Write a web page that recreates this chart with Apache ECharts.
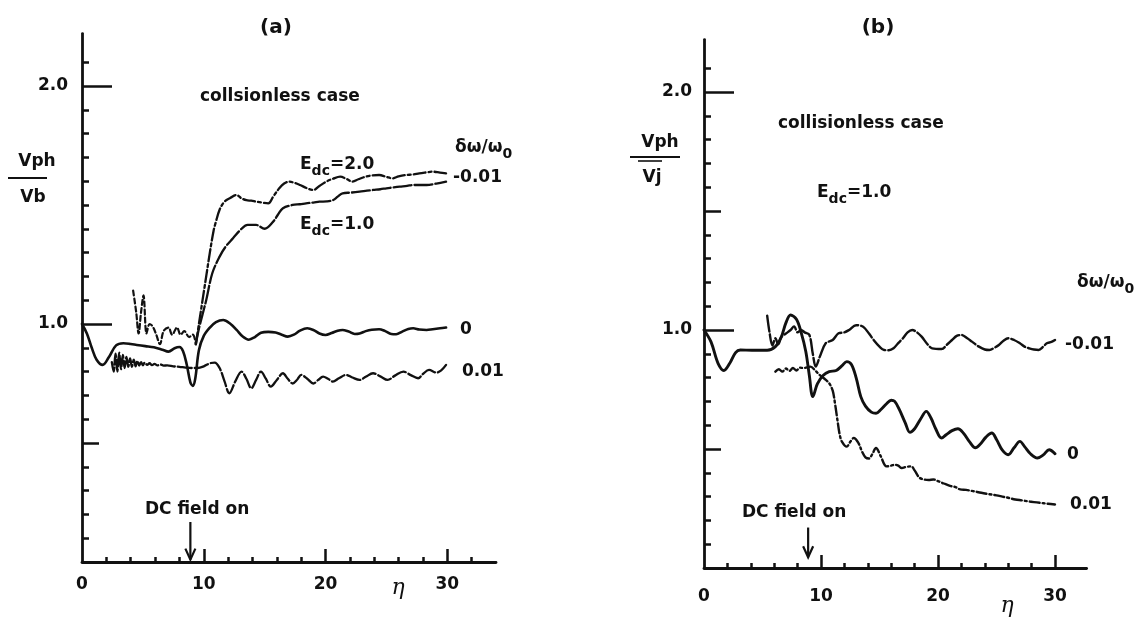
<!DOCTYPE html>
<html>
<head>
<meta charset="utf-8">
<script src="https://cdn.jsdelivr.net/npm/echarts@6/dist/echarts.min.js"></script>
<style>
  html, body { margin: 0; padding: 0; background: #fff; }
  #chart { width: 1146px; height: 619px; }
</style>
</head>
<body>
<div id="chart"></div>
<script>
// ---- axis ticks ----
const etaMajorTicks = [10, 20, 30];
const etaLabels = [0, 10, 20, 30];
const etaMinorTicksA = [2, 4, 6, 8, 12, 14, 16, 18, 22, 24, 26, 28, 32];
const etaMinorTicksB = [2, 4, 6, 8, 12, 14, 16, 18, 22, 24, 26, 28];
const vLongTicks = [1.0, 2.0];
const vMidTicksA = [0.5];
const vMidTicksB = [0.5, 1.5];
const vMinorTicks = [0.1, 0.2, 0.3, 0.4, 0.6, 0.7, 0.8, 0.9, 1.1, 1.2, 1.3, 1.4, 1.5, 1.6, 1.7, 1.8, 1.9, 2.1];
const vMinorTicksB = [0.1, 0.2, 0.3, 0.4, 0.6, 0.7, 0.8, 0.9, 1.1, 1.2, 1.3, 1.4, 1.6, 1.7, 1.8, 1.9, 2.1];
const fieldOnEta = 8.9;

// ---- panel (a): v_ph / v_b versus eta ----
// delta-omega/omega0 = 0
const aZero = [[0,1.0],[0.4,0.96],[0.8,0.90],[1.2,0.85],[1.7,0.828],[2.2,0.86],[2.8,0.91],[3.4,0.919],[4.0,0.916],[4.5,0.912],[5.2,0.907],[5.9,0.902],[6.6,0.892],[7.1,0.884],[7.6,0.898],[8.0,0.903],[8.3,0.885],[8.6,0.83],[8.9,0.755],[9.1,0.74],[9.3,0.77],[9.6,0.89],[10.0,0.95],[10.5,0.985],[11.0,1.008],[11.6,1.017],[12.2,1.0],[12.7,0.975],[13.2,0.947],[13.7,0.934],[14.2,0.945],[14.7,0.963],[15.3,0.967],[15.9,0.964],[16.4,0.955],[16.9,0.947],[17.4,0.955],[17.9,0.972],[18.5,0.982],[19.0,0.975],[19.5,0.96],[20.0,0.954],[20.5,0.962],[21.0,0.972],[21.4,0.975],[21.9,0.968],[22.4,0.958],[22.8,0.96],[23.3,0.97],[23.8,0.976],[24.4,0.978],[24.9,0.97],[25.4,0.958],[25.8,0.957],[26.3,0.968],[26.8,0.979],[27.2,0.982],[27.7,0.977],[28.3,0.975],[28.8,0.978],[29.4,0.982],[29.9,0.985]];
// delta-omega/omega0 = 0.01
const aPlus = [[2.45,0.84],[2.6,0.80],[2.75,0.875],[2.9,0.80],[3.05,0.88],[3.2,0.81],[3.35,0.87],[3.5,0.815],[3.65,0.862],[3.8,0.82],[3.95,0.855],[4.1,0.82],[4.25,0.85],[4.4,0.822],[4.55,0.845],[4.7,0.825],[4.85,0.84],[5.0,0.826],[5.15,0.838],[5.35,0.828],[5.55,0.835],[5.75,0.827],[5.95,0.832],[6.2,0.826],[6.45,0.83],[6.7,0.825],[7.0,0.826],[7.5,0.822],[8.0,0.82],[8.5,0.817],[9.0,0.815],[9.5,0.815],[10.0,0.822],[10.5,0.835],[10.9,0.838],[11.3,0.815],[11.7,0.76],[12.1,0.709],[12.6,0.76],[13.1,0.80],[13.5,0.77],[13.9,0.73],[14.3,0.765],[14.7,0.80],[15.1,0.77],[15.5,0.737],[16.0,0.765],[16.5,0.793],[16.9,0.77],[17.3,0.75],[17.7,0.768],[18.0,0.786],[18.5,0.77],[19.0,0.75],[19.4,0.765],[19.8,0.779],[20.2,0.77],[20.6,0.758],[21.1,0.772],[21.7,0.786],[22.2,0.775],[22.8,0.765],[23.3,0.778],[23.9,0.793],[24.5,0.78],[25.1,0.765],[25.7,0.783],[26.4,0.80],[27.0,0.785],[27.6,0.772],[28.0,0.79],[28.5,0.807],[29.1,0.796],[29.5,0.805],[29.9,0.828]];
// delta-omega/omega0 = -0.01, before the DC field
const aMinusPre = [[4.2,1.14],[4.45,1.05],[4.65,0.96],[4.85,1.05],[5.05,1.12],[5.3,0.96],[5.55,1.0],[5.8,0.99],[6.1,0.955],[6.4,0.915],[6.7,0.97],[7.1,0.985],[7.4,0.955],[7.8,0.985],[8.1,0.955],[8.4,0.97],[8.8,0.945],[9.1,0.955],[9.35,0.915]];
// delta-omega/omega0 = -0.01, E_dc = 2.0
const aMinusE2 = [[9.35,0.915],[9.6,1.0],[9.9,1.1],[10.2,1.2],[10.5,1.3],[10.8,1.39],[11.0,1.43],[11.3,1.48],[11.7,1.514],[12.2,1.53],[12.66,1.542],[13.1,1.528],[13.5,1.52],[13.9,1.518],[14.3,1.514],[14.8,1.51],[15.3,1.507],[15.7,1.535],[16.2,1.57],[16.6,1.59],[17.0,1.598],[17.5,1.592],[17.9,1.584],[18.5,1.57],[19.0,1.563],[19.5,1.58],[20.05,1.598],[20.6,1.61],[21.2,1.619],[21.7,1.61],[22.2,1.598],[22.7,1.608],[23.3,1.619],[23.8,1.624],[24.4,1.626],[25.0,1.618],[25.5,1.612],[26.0,1.62],[26.6,1.626],[27.2,1.628],[27.7,1.633],[28.3,1.637],[28.8,1.64],[29.4,1.636],[29.9,1.633]];
// delta-omega/omega0 = -0.01, E_dc = 1.0
const aMinusE1 = [[9.35,0.915],[9.6,0.98],[9.9,1.04],[10.2,1.10],[10.7,1.213],[11.3,1.283],[11.8,1.325],[12.4,1.36],[13.1,1.40],[13.6,1.416],[14.3,1.416],[15.0,1.40],[15.7,1.43],[16.1,1.46],[16.5,1.486],[17.3,1.50],[17.9,1.503],[18.4,1.507],[19.0,1.51],[19.5,1.514],[20.1,1.515],[20.6,1.52],[21.0,1.535],[21.4,1.549],[22.1,1.552],[22.8,1.556],[23.4,1.56],[23.9,1.563],[24.5,1.566],[25.0,1.57],[25.6,1.574],[26.1,1.577],[26.7,1.58],[27.2,1.584],[27.8,1.584],[28.3,1.584],[29.1,1.59],[29.9,1.598]];

// ---- panel (b): v_ph / v_j versus eta, E_dc = 1.0 ----
// delta-omega/omega0 = 0
const bZero = [[0,1.0],[0.6,0.95],[1.2,0.86],[1.7,0.83],[2.2,0.86],[2.7,0.905],[3.1,0.916],[4.1,0.915],[5.4,0.915],[6.1,0.93],[6.6,0.97],[7.0,1.03],[7.4,1.063],[7.9,1.045],[8.3,0.99],[8.7,0.91],[9.0,0.81],[9.3,0.72],[9.7,0.775],[10.2,0.81],[10.7,0.825],[11.3,0.83],[11.8,0.85],[12.2,0.867],[12.6,0.855],[13.0,0.80],[13.4,0.72],[13.8,0.68],[14.3,0.655],[14.7,0.65],[15.1,0.665],[15.6,0.69],[16.0,0.705],[16.3,0.70],[16.7,0.665],[17.2,0.61],[17.6,0.57],[18.0,0.585],[18.5,0.625],[19.0,0.658],[19.4,0.63],[19.8,0.585],[20.3,0.546],[20.7,0.56],[21.2,0.577],[21.7,0.585],[22.2,0.565],[22.7,0.53],[23.2,0.505],[23.6,0.52],[24.1,0.55],[24.6,0.567],[25.0,0.54],[25.5,0.495],[26.0,0.476],[26.5,0.505],[27.0,0.532],[27.4,0.51],[27.9,0.48],[28.5,0.462],[29.0,0.475],[29.5,0.497],[30.0,0.48]];
// delta-omega/omega0 = -0.01
const bMinus = [[5.4,1.06],[5.6,0.99],[5.85,0.935],[6.1,0.965],[6.35,0.94],[6.6,0.97],[7.0,0.985],[7.4,1.0],[7.7,1.015],[8.0,0.99],[8.3,1.0],[8.6,0.99],[9.0,0.98],[9.3,0.9],[9.55,0.846],[9.9,0.888],[10.4,0.944],[11.0,0.958],[11.5,0.986],[12.0,0.99],[12.4,1.0],[13.0,1.02],[13.6,1.014],[14.1,0.985],[14.5,0.958],[15.0,0.93],[15.4,0.916],[15.8,0.915],[16.2,0.923],[16.6,0.945],[17.0,0.965],[17.4,0.99],[17.8,1.0],[18.2,0.99],[18.6,0.972],[19.1,0.94],[19.5,0.923],[20.3,0.92],[20.8,0.94],[21.2,0.958],[21.6,0.975],[22.0,0.979],[22.5,0.965],[22.9,0.951],[23.5,0.93],[24.0,0.918],[24.4,0.916],[24.8,0.925],[25.2,0.937],[25.6,0.955],[26.0,0.965],[26.5,0.958],[27.0,0.944],[27.4,0.93],[27.8,0.923],[28.2,0.918],[28.6,0.916],[29.0,0.93],[29.3,0.944],[29.7,0.95],[30.0,0.958]];
// delta-omega/omega0 = 0.01
const bPlus = [[6.1,0.825],[6.4,0.835],[6.7,0.825],[7.0,0.838],[7.3,0.828],[7.6,0.84],[7.9,0.83],[8.2,0.842],[8.5,0.84],[9.1,0.846],[9.5,0.83],[9.9,0.81],[10.3,0.795],[10.7,0.776],[11.0,0.745],[11.2,0.69],[11.4,0.623],[11.6,0.56],[11.8,0.53],[12.2,0.51],[12.5,0.53],[12.8,0.546],[13.2,0.525],[13.5,0.49],[13.8,0.465],[14.1,0.46],[14.4,0.48],[14.7,0.504],[15.1,0.47],[15.6,0.427],[16.0,0.43],[16.3,0.434],[16.6,0.43],[16.9,0.42],[17.3,0.425],[17.7,0.427],[18.0,0.41],[18.4,0.38],[18.8,0.372],[19.2,0.37],[19.6,0.372],[20.0,0.365],[20.5,0.355],[21.1,0.344],[21.5,0.34],[21.9,0.33],[22.4,0.328],[23.0,0.323],[23.7,0.316],[24.4,0.31],[25.0,0.305],[25.5,0.30],[26.0,0.295],[26.6,0.288],[27.2,0.284],[27.7,0.28],[28.2,0.277],[28.7,0.274],[29.4,0.27],[30.0,0.267]];

// ---- drawing ----
const INK = '#111';
const FONT = '"DejaVu Sans", "Liberation Sans", sans-serif';
const chart = echarts.init(document.getElementById('chart'), null, { renderer: 'canvas' });

const tickStyle = { color: INK, width: 2.5 };
const labelStyle = { color: INK, fontSize: 17, fontWeight: 'bold', fontFamily: FONT };

function etaAxes(grid, max, minor, labelMargin) {
  return [
    { gridIndex: grid, type: 'value', min: 0, max: max, position: 'bottom', offset: 0,
      axisLine: { onZero: false, lineStyle: { color: INK, width: 2.8 } },
      axisTick: { inside: true, length: 13, customValues: etaMajorTicks, lineStyle: tickStyle },
      axisLabel: Object.assign({ customValues: etaLabels, margin: labelMargin }, labelStyle),
      splitLine: { show: false } },
    { gridIndex: grid, type: 'value', min: 0, max: max, position: 'bottom', offset: 0,
      axisLine: { show: false, onZero: false },
      axisTick: { inside: true, length: 5, customValues: minor, lineStyle: tickStyle },
      axisLabel: { show: false }, splitLine: { show: false } }
  ];
}
function vAxes(grid, mid, minor, labelMargin) {
  return [
    { gridIndex: grid, type: 'value', min: 0, max: 2.22, position: 'left', offset: 0,
      axisLine: { onZero: false, lineStyle: { color: INK, width: 2.8 } },
      axisTick: { inside: true, length: 30, customValues: vLongTicks, lineStyle: tickStyle },
      axisLabel: Object.assign({ customValues: vLongTicks, margin: labelMargin,
        formatter: v => v.toFixed(1) }, labelStyle),
      splitLine: { show: false } },
    { gridIndex: grid, type: 'value', min: 0, max: 2.22, position: 'left', offset: 0,
      axisLine: { show: false, onZero: false },
      axisTick: { inside: true, length: 17, customValues: mid, lineStyle: tickStyle },
      axisLabel: { show: false }, splitLine: { show: false } },
    { gridIndex: grid, type: 'value', min: 0, max: 2.22, position: 'left', offset: 0,
      axisLine: { show: false, onZero: false },
      axisTick: { inside: true, length: 7, customValues: minor, lineStyle: tickStyle },
      axisLabel: { show: false }, splitLine: { show: false } }
  ];
}
function curve(data, xi, yi, type, width) {
  return { type: 'line', data: data, xAxisIndex: xi, yAxisIndex: yi,
    smooth: 0.35, symbol: 'none', silent: true, animation: false,
    lineStyle: { color: INK, width: width, type: type, cap: 'round', join: 'round' } };
}

// text helpers
function txt(x, y, text, size, align) {
  return { type: 'text', x: x, y: y, silent: true,
    style: { text: text, fill: INK, fontSize: size, fontWeight: 'bold', fontFamily: FONT,
      align: align || 'left', verticalAlign: 'middle' } };
}
const subRich = {
  m: { fontSize: 17, fontWeight: 'bold', fontFamily: FONT, fill: INK, lineHeight: 22, verticalAlign: 'top' },
  s: { fontSize: 14, fontWeight: 'bold', fontFamily: FONT, fill: INK, verticalAlign: 'bottom' }
};
function subTxt(x, y, text) {
  return { type: 'text', x: x, y: y, silent: true,
    style: { text: text, rich: subRich, align: 'left', verticalAlign: 'middle' } };
}
function eta(x, y) {
  return { type: 'text', x: x, y: y, silent: true,
    style: { text: 'η', fill: INK, fontSize: 22, fontStyle: 'italic', fontFamily: '"DejaVu Serif", serif',
      align: 'center', verticalAlign: 'middle' } };
}
function rule(x1, x2, y, w) {
  return { type: 'line', silent: true, shape: { x1: x1, y1: y, x2: x2, y2: y },
    style: { stroke: INK, lineWidth: w } };
}

chart.setOption({
  backgroundColor: '#fff',
  animation: false,
  grid: [
    { left: 82, top: 33.6, width: 414, height: 528.4 },
    { left: 704, top: 39.6, width: 382.6, height: 528.4 }
  ],
  xAxis: [].concat(etaAxes(0, 34, etaMinorTicksA, 14), etaAxes(1, 32.7, etaMinorTicksB, 20)),
  yAxis: [].concat(vAxes(0, vMidTicksA, vMinorTicks, 14), vAxes(1, vMidTicksB, vMinorTicksB, 12)),
  series: [
    curve(aZero, 0, 0, 'solid', 2.6),
    curve(aPlus, 0, 0, [14, 3], 2.3),
    curve(aMinusPre, 0, 0, [5, 3], 2.2),
    curve(aMinusE2, 0, 0, [12, 3, 3, 3], 2.3),
    curve(aMinusE1, 0, 0, [18, 3], 2.3),
    curve(bZero, 2, 3, 'solid', 2.9),
    curve(bMinus, 2, 3, [16, 3], 2.4),
    curve(bPlus, 2, 3, [10, 3, 2, 3], 2.4)
  ],
  graphic: [
    // panel (a)
    txt(276, 28, '(a)', 20, 'center'),
    txt(200, 97, 'collsionless case', 17),
    subTxt(455, 150, '{m|δω/ω}{s|0}'),
    subTxt(300, 167, '{m|E}{s|dc}{m|=2.0}'),
    subTxt(300, 227, '{m|E}{s|dc}{m|=1.0}'),
    txt(453, 178, '-0.01', 17),
    txt(460, 330, '0', 17),
    txt(462, 372, '0.01', 17),
    txt(145, 510, 'DC field on', 17),
    txt(37, 162, 'Vph', 17, 'center'),
    rule(8, 47, 178, 2.2),
    txt(33, 198, 'Vb', 17, 'center'),
    eta(398, 588),
    // panel (b)
    txt(878, 28, '(b)', 20, 'center'),
    txt(778, 124, 'collisionless case', 17),
    subTxt(817, 195, '{m|E}{s|dc}{m|=1.0}'),
    subTxt(1077, 285, '{m|δω/ω}{s|0}'),
    txt(1065, 345, '-0.01', 17),
    txt(1067, 455, '0', 17),
    txt(1070, 505, '0.01', 17),
    txt(742, 513, 'DC field on', 17),
    txt(660, 143, 'Vph', 17, 'center'),
    rule(630, 680, 157, 2.2),
    rule(638, 662, 161, 1.6),
    txt(652, 178, 'Vj', 17, 'center'),
    eta(1007, 606)
  ]
});

// "DC field on" arrows, anchored to eta = fieldOnEta on each panel
function arrow(xi, yi, vTop, vTip) {
  const p1 = chart.convertToPixel({ xAxisIndex: xi, yAxisIndex: yi }, [fieldOnEta, vTop]);
  const p2 = chart.convertToPixel({ xAxisIndex: xi, yAxisIndex: yi }, [fieldOnEta, vTip]);
  return [
    { type: 'line', silent: true, shape: { x1: p1[0], y1: p1[1], x2: p2[0], y2: p2[1] },
      style: { stroke: INK, lineWidth: 2.2 } },
    { type: 'polyline', silent: true,
      shape: { points: [[p2[0] - 5, p2[1] - 11], [p2[0], p2[1]], [p2[0] + 5, p2[1] - 11]] },
      style: { stroke: INK, lineWidth: 2.2, fill: null } }
  ];
}
const opt = chart.getOption();
chart.setOption({
  graphic: opt.graphic[0].elements.map(() => ({})).concat(
    arrow(0, 0, 0.168, 0.01), arrow(2, 3, 0.17, 0.045))
});
</script>
</body>
</html>
